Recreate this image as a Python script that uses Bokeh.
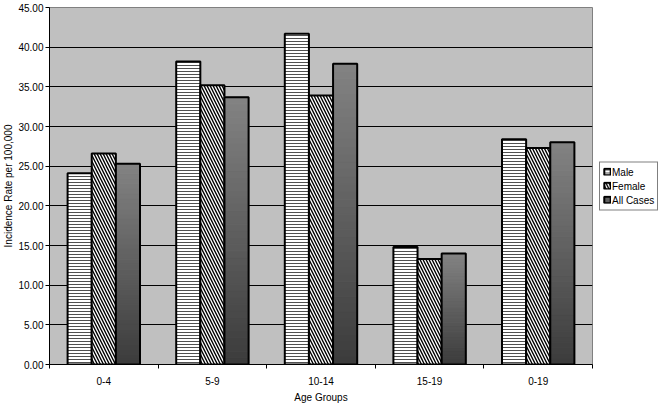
import numpy as np
import pandas as pd
from bokeh.plotting import figure
from bokeh.models import (ColumnDataSource, Range1d, FixedTicker, NumeralTickFormatter,
                          Legend, LegendItem)
from bokeh.transform import dodge
from bokeh.embed import file_html
from bokeh.resources import INLINE

# ---- data ----
age_groups = ["0-4", "5-9", "10-14", "15-19", "0-19"]
male = [24.1, 38.2, 41.7, 14.8, 28.4]
female = [26.6, 35.2, 33.9, 13.3, 27.3]
all_cases = [25.3, 33.7, 37.9, 14.0, 28.0]
y_ticks = [0, 5, 10, 15, 20, 25, 30, 35, 40, 45]
series_names = ["Male", "Female", "All Cases"]

FONT = "Liberation Sans"
BAR_W = 1 / 4.5  # Excel gap width 150 %

idx = list(range(len(age_groups)))
src = ColumnDataSource(data=dict(x=idx, male=male, female=female, all_cases=all_cases))

# gradient segments for the "All Cases" bars (light at top, dark at bottom)
N_SEG = 40
order = [N_SEG // 2] + [k for k in range(N_SEG) if k != N_SEG // 2]
gx, gb, gt, gc = [], [], [], []
for k in order:
    for i, v in enumerate(all_cases):
        gx.append(i)
        gb.append(v * k / N_SEG)
        gt.append(v * (k + 1) / N_SEG)
        g = int(round(60 + (130 - 60) * k / (N_SEG - 1)))
        gc.append("#%02x%02x%02x" % (g, g, g))
grad_src = ColumnDataSource(data=dict(x=gx, bottom=gb, top=gt, color=gc))

p = figure(width=661, height=405, frame_width=543, frame_height=357,
           output_backend="svg", toolbar_location=None,
           x_range=Range1d(-0.5, len(age_groups) - 0.5), y_range=Range1d(0, 45),
           min_border_left=49, min_border_right=0, min_border_top=7, min_border_bottom=41,
           background_fill_color="#c0c0c0", border_fill_color="white",
           styles={"position": "absolute", "left": "0px", "top": "0px"})

p.outline_line_color = "#808080"
p.outline_line_width = 1

# bars
r_male = p.vbar(x=dodge("x", -BAR_W, range=p.x_range), top="male", width=BAR_W, source=src,
                fill_color="white", line_color="black", line_width=2,
                hatch_pattern="horizontal_line", hatch_color="#505050", hatch_scale=3,
                hatch_weight=1)
r_female = p.vbar(x=dodge("x", 0, range=p.x_range), top="female", width=BAR_W, source=src,
                  fill_color="white", line_color="black", line_width=2,
                  hatch_pattern="left_diagonal_line", hatch_color="black", hatch_scale=6,
                  hatch_weight=1.4)
r_all = p.vbar(x=dodge("x", BAR_W, range=p.x_range), bottom="bottom", top="top", width=BAR_W,
               source=grad_src, fill_color="color", line_color="color", line_width=1)
r_all_outline = p.vbar(x=dodge("x", BAR_W, range=p.x_range), top="all_cases", width=BAR_W,
                       source=src, fill_color=None, line_color="black", line_width=2)

# grid
p.xgrid.grid_line_color = None
p.ygrid.grid_line_color = "black"
p.ygrid.grid_line_width = 1
p.ygrid.ticker = FixedTicker(ticks=y_ticks)

# y axis
p.yaxis.ticker = FixedTicker(ticks=y_ticks)
p.yaxis.formatter = NumeralTickFormatter(format="0.00")
p.yaxis.axis_label = "Incidence Rate per 100,000"
p.yaxis.major_tick_in = 0
p.yaxis.major_tick_out = 4
p.yaxis.minor_tick_line_color = None
p.yaxis.major_label_standoff = 2
p.yaxis.axis_label_standoff = 1

# x axis: labels at category centres, ticks at category boundaries
boundaries = [i - 0.5 for i in range(len(age_groups) + 1)]
p.xaxis.ticker = FixedTicker(ticks=idx, minor_ticks=boundaries)
p.xaxis.major_label_overrides = {i: g for i, g in enumerate(age_groups)}
p.xaxis.major_tick_in = 0
p.xaxis.major_tick_out = 0
p.xaxis.minor_tick_in = 0
p.xaxis.minor_tick_out = 4
p.xaxis.minor_tick_line_color = "black"
p.xaxis.major_label_standoff = 8
p.xaxis.axis_label = "Age Groups"
p.xaxis.axis_label_standoff = 4

for ax in (p.xaxis, p.yaxis):
    ax.axis_line_color = "black"
    ax.major_tick_line_color = "black"
    ax.major_label_text_font = FONT
    ax.major_label_text_font_size = "10px"
    ax.major_label_text_color = "black"
    ax.axis_label_text_font = FONT
    ax.axis_label_text_font_size = "10px"
    ax.axis_label_text_font_style = "normal"
    ax.axis_label_text_color = "black"

legend = Legend(items=[
    LegendItem(label=series_names[0], renderers=[r_male]),
    LegendItem(label=series_names[1], renderers=[r_female]),
    LegendItem(label=series_names[2], renderers=[r_all, r_all_outline], index=0),
], location="left", orientation="vertical")
legend.margin = 7
legend.padding = 3
legend.spacing = 1
legend.glyph_width = 8
legend.glyph_height = 8
legend.label_height = 13
legend.label_standoff = 1
legend.label_text_font = FONT
legend.label_text_font_size = "10px"
legend.label_text_color = "black"
legend.border_line_color = "black"
legend.border_line_width = 1
legend.background_fill_color = "white"
legend.background_fill_alpha = 1
p.add_layout(legend, "right")

open("out.html", "w").write(file_html(p, INLINE))
